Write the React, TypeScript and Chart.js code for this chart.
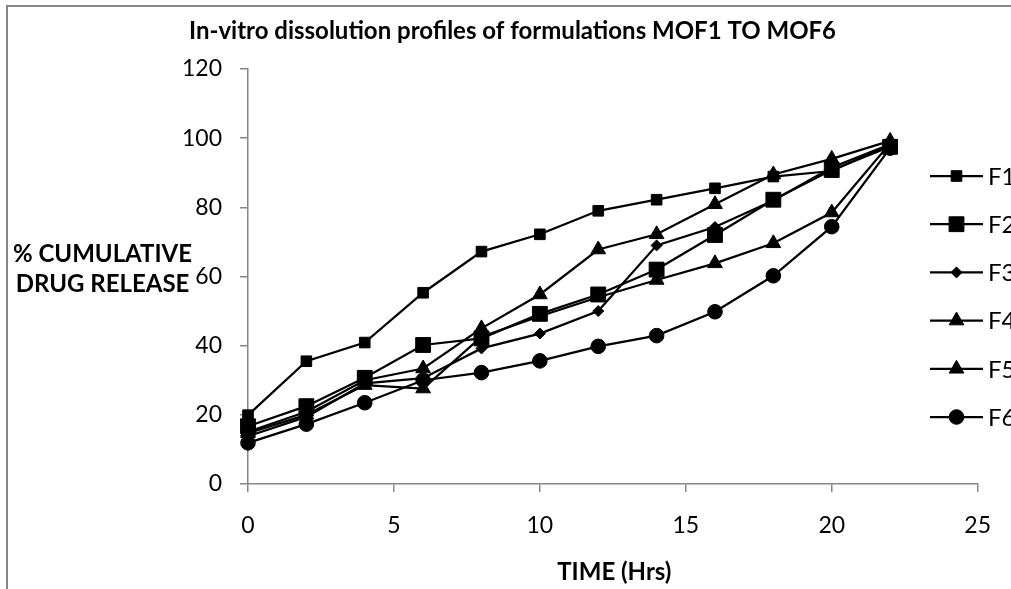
import React, { useEffect, useRef } from 'react';
import { Chart, registerables } from 'chart.js';

Chart.register(...registerables);

const chartTitle = 'In-vitro dissolution profiles of formulations MOF1 TO MOF6';
const yTitleLines = ['% CUMULATIVE', 'DRUG RELEASE'];
const xTitle = 'TIME (Hrs)';

const timeHrs = [0, 2, 4, 6, 8, 10, 12, 14, 16, 18, 20, 22];
const seriesNames = ['F1', 'F2', 'F3', 'F4', 'F5', 'F6'];
const f1 = [19.9, 35.5, 40.9, 55.3, 67.2, 72.2, 79.0, 82.2, 85.5, 88.9, 90.5, 98.0];
const f2 = [16.7, 22.5, 30.7, 40.2, 42.1, 49.2, 54.8, 62.0, 72.0, 82.2, 90.8, 97.5];
const f3 = [13.8, 19.4, 29.1, 30.6, 39.2, 43.5, 50.0, 69.0, 74.3, 82.0, 91.5, 98.2];
const f4 = [15.1, 20.9, 30.0, 33.4, 45.0, 54.8, 67.8, 72.2, 80.9, 89.5, 94.0, 99.2];
const f5 = [14.7, 20.0, 28.6, 27.6, 42.6, 48.5, 54.0, 59.0, 63.8, 69.6, 78.5, 98.5];
const f6 = [11.9, 17.3, 23.5, 30.0, 32.2, 35.6, 39.8, 42.9, 49.8, 60.2, 74.4, 97.1];
const seriesValues = [f1, f2, f3, f4, f5, f6];

const yMin = 0;
const yMax = 120;
const yStep = 20;
const xMin = 0;
const xMax = 25;
const xStep = 5;

const markerStyles = ['rect', 'rect', 'rectRot', 'triangle', 'triangle', 'circle'];
const markerRadii = [7.5, 10.5, 5.5, 8.5, 8.5, 7.3];

const FONT = 'Lato, "Open Sans", sans-serif';
const AXIS_GRAY = '#868686';

function drawMarker(ctx: CanvasRenderingContext2D, style: string, r: number, x: number, y: number) {
  ctx.beginPath();
  if (style === 'rect') {
    const s = Math.SQRT1_2 * r;
    ctx.rect(x - s, y - s, 2 * s, 2 * s);
  } else if (style === 'rectRot') {
    ctx.moveTo(x - r, y);
    ctx.lineTo(x, y - r);
    ctx.lineTo(x + r, y);
    ctx.lineTo(x, y + r);
    ctx.closePath();
  } else if (style === 'triangle') {
    let a = 0;
    ctx.moveTo(x + Math.sin(a) * r, y - Math.cos(a) * r);
    a += (2 * Math.PI) / 3;
    ctx.lineTo(x + Math.sin(a) * r, y - Math.cos(a) * r);
    a += (2 * Math.PI) / 3;
    ctx.lineTo(x + Math.sin(a) * r, y - Math.cos(a) * r);
    ctx.closePath();
  } else {
    ctx.arc(x, y, r, 0, Math.PI * 2);
  }
  ctx.fillStyle = '#000';
  ctx.fill();
  ctx.lineWidth = 1;
  ctx.strokeStyle = '#000';
  ctx.stroke();
}

const decorPlugin = {
  id: 'decor',
  afterDraw(chart: any) {
    const ctx: CanvasRenderingContext2D = chart.ctx;
    const area = chart.chartArea;
    ctx.save();
    // outer frame
    ctx.strokeStyle = AXIS_GRAY;
    ctx.lineWidth = 2;
    ctx.strokeRect(7, 6, 1200, 800);

    ctx.fillStyle = '#000';
    // title
    ctx.font = `bold 24px ${FONT}`;
    ctx.textAlign = 'center';
    ctx.textBaseline = 'alphabetic';
    ctx.fillText(chartTitle, 512.5, 38.5);

    // y title (horizontal, two lines)
    ctx.fillText(yTitleLines[0], 102.5, 261.7);
    ctx.fillText(yTitleLines[1], 102.5, 291.7);

    // x title
    ctx.fillText(xTitle, (area.left + area.right) / 2 + 1.5, 580);

    // legend
    const lx0 = 930;
    const lx1 = 983;
    const lxm = 956.5;
    ctx.font = `24px ${FONT}`;
    ctx.textAlign = 'left';
    ctx.textBaseline = 'middle';
    seriesNames.forEach((name, i) => {
      const y = 176 + i * 48.2;
      ctx.beginPath();
      ctx.moveTo(lx0, y);
      ctx.lineTo(lx1, y);
      ctx.strokeStyle = '#000';
      ctx.lineWidth = 2.25;
      ctx.stroke();
      drawMarker(ctx, markerStyles[i], markerRadii[i], lxm, y);
      ctx.fillStyle = '#000';
      ctx.fillText(name, 988, y + 1);
    });
    ctx.restore();
  },
};

export default function App() {
  const canvasRef = useRef<HTMLCanvasElement | null>(null);

  useEffect(() => {
    const canvas = canvasRef.current;
    if (!canvas) return;
    const datasets = seriesNames.map((name, i) => ({
      label: name,
      data: timeHrs.map((t, j) => ({ x: t, y: seriesValues[i][j] })),
      borderColor: '#000',
      backgroundColor: '#000',
      borderWidth: 2.25,
      pointStyle: markerStyles[i],
      pointRadius: markerRadii[i],
      pointBorderWidth: 1,
      pointBorderColor: '#000',
      pointBackgroundColor: '#000',
      tension: 0,
      clip: false as any,
      order: seriesNames.length - i,
    }));

    const chart = new Chart(canvas, {
      type: 'line',
      data: { datasets },
      options: {
        animation: false,
        responsive: false,
        devicePixelRatio: 1,
        layout: { padding: { top: 69, right: 33, left: 0, bottom: 0 } },
        plugins: {
          legend: { display: false },
          title: { display: false },
          tooltip: { enabled: false },
        },
        scales: {
          x: {
            type: 'linear',
            min: xMin,
            max: xMax,
            ticks: {
              stepSize: xStep,
              color: '#000',
              font: { family: FONT, size: 23 },
              padding: 20,
              maxRotation: 0,
            },
            grid: {
              display: true,
              drawOnChartArea: false,
              drawTicks: true,
              tickLength: 8,
              color: AXIS_GRAY,
              lineWidth: 1.5,
            },
            border: { display: true, color: AXIS_GRAY, width: 1.5 },
            afterFit: (scale: any) => {
              scale.height = 105;
            },
          },
          y: {
            type: 'linear',
            min: yMin,
            max: yMax,
            ticks: {
              stepSize: yStep,
              color: '#000',
              font: { family: FONT, size: 23 },
              padding: 18,
            },
            grid: {
              display: true,
              drawOnChartArea: false,
              drawTicks: true,
              tickLength: 8,
              color: AXIS_GRAY,
              lineWidth: 1.5,
            },
            border: { display: true, color: AXIS_GRAY, width: 1.5 },
            afterFit: (scale: any) => {
              scale.width = 248;
            },
          },
        },
      },
      plugins: [decorPlugin],
    });
    return () => chart.destroy();
  }, []);

  return (
    <div style={{ position: 'fixed', left: 0, top: 0, width: 1011, height: 589, background: '#fff' }}>
      <canvas ref={canvasRef} width={1011} height={589} />
    </div>
  );
}
